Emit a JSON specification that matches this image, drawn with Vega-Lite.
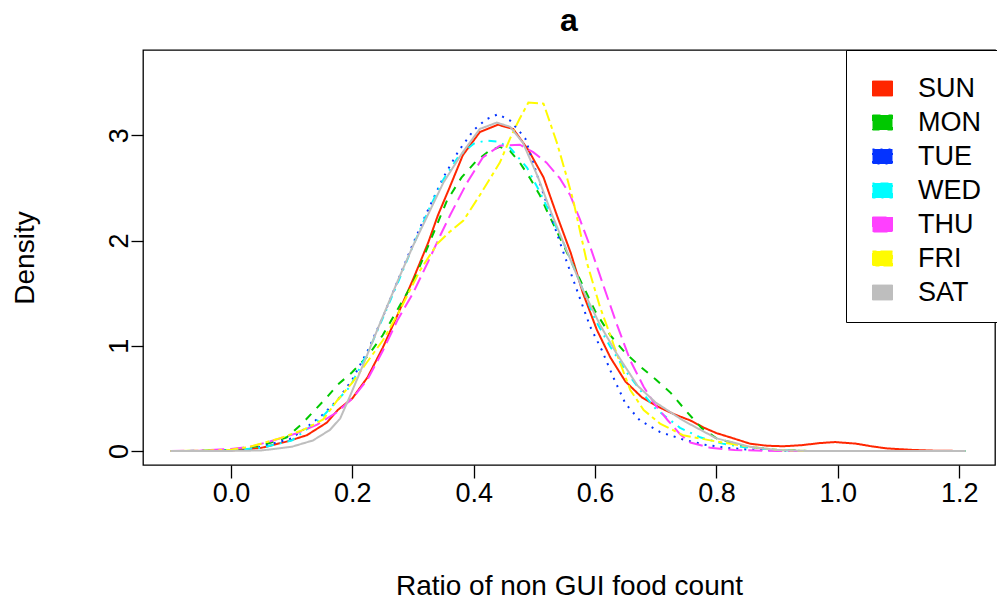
{
  "$schema": "https://vega.github.io/schema/vega-lite/v6.json",
  "width": 852,
  "height": 415,
  "autosize": {"type": "none"},
  "padding": {"left": 143, "top": 50, "right": 2, "bottom": 138},
  "background": "white",
  "config": {
    "font": "Liberation Sans",
    "view": {"stroke": "black", "strokeWidth": 1.3},
    "axis": {"grid": false, "domain": false, "tickColor": "black", "tickWidth": 1.3, "labelColor": "black", "titleColor": "black", "labelFont": "Liberation Sans", "titleFont": "Liberation Sans", "titleFontWeight": "normal"}
  },
  "title": {"text": "a", "fontSize": 32, "fontWeight": "bold", "font": "Liberation Sans", "offset": 12, "anchor": "middle", "color": "black"},
  "data": {"values": [
    {"day":"SUN","x":-0.1,"d":0},{"day":"SUN","x":-0.05,"d":0},{"day":"SUN","x":0,"d":0.005},{"day":"SUN","x":0.05,"d":0.03},{"day":"SUN","x":0.092,"d":0.09},{"day":"SUN","x":0.125,"d":0.15},{"day":"SUN","x":0.158,"d":0.27},{"day":"SUN","x":0.176,"d":0.39},{"day":"SUN","x":0.2,"d":0.5},{"day":"SUN","x":0.225,"d":0.7},{"day":"SUN","x":0.25,"d":0.98},{"day":"SUN","x":0.275,"d":1.3},{"day":"SUN","x":0.3,"d":1.63},{"day":"SUN","x":0.325,"d":1.98},{"day":"SUN","x":0.341,"d":2.24},{"day":"SUN","x":0.36,"d":2.5},{"day":"SUN","x":0.382,"d":2.81},{"day":"SUN","x":0.41,"d":3.03},{"day":"SUN","x":0.44,"d":3.1},{"day":"SUN","x":0.465,"d":3.06},{"day":"SUN","x":0.49,"d":2.86},{"day":"SUN","x":0.515,"d":2.6},{"day":"SUN","x":0.537,"d":2.24},{"day":"SUN","x":0.56,"d":1.88},{"day":"SUN","x":0.58,"d":1.5},{"day":"SUN","x":0.603,"d":1.15},{"day":"SUN","x":0.625,"d":0.89},{"day":"SUN","x":0.65,"d":0.66},{"day":"SUN","x":0.677,"d":0.51},{"day":"SUN","x":0.704,"d":0.42},{"day":"SUN","x":0.73,"d":0.35},{"day":"SUN","x":0.757,"d":0.29},{"day":"SUN","x":0.78,"d":0.22},{"day":"SUN","x":0.8,"d":0.17},{"day":"SUN","x":0.828,"d":0.12},{"day":"SUN","x":0.855,"d":0.07},{"day":"SUN","x":0.883,"d":0.05},{"day":"SUN","x":0.91,"d":0.045},{"day":"SUN","x":0.94,"d":0.055},{"day":"SUN","x":0.97,"d":0.075},{"day":"SUN","x":0.995,"d":0.085},{"day":"SUN","x":1.03,"d":0.07},{"day":"SUN","x":1.055,"d":0.045},{"day":"SUN","x":1.08,"d":0.025},{"day":"SUN","x":1.124,"d":0.01},{"day":"SUN","x":1.16,"d":0.003},{"day":"SUN","x":1.21,"d":0},
    {"day":"MON","x":-0.1,"d":0},{"day":"MON","x":-0.05,"d":0.002},{"day":"MON","x":0,"d":0.012},{"day":"MON","x":0.05,"d":0.05},{"day":"MON","x":0.092,"d":0.13},{"day":"MON","x":0.119,"d":0.27},{"day":"MON","x":0.135,"d":0.37},{"day":"MON","x":0.158,"d":0.51},{"day":"MON","x":0.176,"d":0.63},{"day":"MON","x":0.2,"d":0.75},{"day":"MON","x":0.225,"d":0.9},{"day":"MON","x":0.25,"d":1.1},{"day":"MON","x":0.275,"d":1.35},{"day":"MON","x":0.3,"d":1.6},{"day":"MON","x":0.325,"d":1.95},{"day":"MON","x":0.356,"d":2.38},{"day":"MON","x":0.38,"d":2.6},{"day":"MON","x":0.405,"d":2.76},{"day":"MON","x":0.425,"d":2.85},{"day":"MON","x":0.443,"d":2.89},{"day":"MON","x":0.46,"d":2.85},{"day":"MON","x":0.476,"d":2.74},{"day":"MON","x":0.493,"d":2.59},{"day":"MON","x":0.509,"d":2.43},{"day":"MON","x":0.52,"d":2.29},{"day":"MON","x":0.55,"d":1.93},{"day":"MON","x":0.575,"d":1.63},{"day":"MON","x":0.6,"d":1.33},{"day":"MON","x":0.625,"d":1.1},{"day":"MON","x":0.65,"d":0.93},{"day":"MON","x":0.675,"d":0.8},{"day":"MON","x":0.7,"d":0.68},{"day":"MON","x":0.725,"d":0.55},{"day":"MON","x":0.75,"d":0.38},{"day":"MON","x":0.775,"d":0.22},{"day":"MON","x":0.8,"d":0.12},{"day":"MON","x":0.85,"d":0.04},{"day":"MON","x":0.9,"d":0.01},{"day":"MON","x":0.95,"d":0},{"day":"MON","x":1.21,"d":0},
    {"day":"TUE","x":-0.1,"d":0},{"day":"TUE","x":-0.05,"d":0.001},{"day":"TUE","x":0,"d":0.01},{"day":"TUE","x":0.05,"d":0.04},{"day":"TUE","x":0.1,"d":0.12},{"day":"TUE","x":0.13,"d":0.25},{"day":"TUE","x":0.15,"d":0.34},{"day":"TUE","x":0.175,"d":0.48},{"day":"TUE","x":0.2,"d":0.68},{"day":"TUE","x":0.225,"d":0.95},{"day":"TUE","x":0.25,"d":1.27},{"day":"TUE","x":0.275,"d":1.62},{"day":"TUE","x":0.3,"d":1.97},{"day":"TUE","x":0.323,"d":2.27},{"day":"TUE","x":0.35,"d":2.6},{"day":"TUE","x":0.375,"d":2.85},{"day":"TUE","x":0.4,"d":3.05},{"day":"TUE","x":0.42,"d":3.15},{"day":"TUE","x":0.44,"d":3.2},{"day":"TUE","x":0.46,"d":3.14},{"day":"TUE","x":0.485,"d":2.97},{"day":"TUE","x":0.504,"d":2.63},{"day":"TUE","x":0.525,"d":2.27},{"day":"TUE","x":0.55,"d":1.85},{"day":"TUE","x":0.575,"d":1.45},{"day":"TUE","x":0.592,"d":1.18},{"day":"TUE","x":0.611,"d":0.96},{"day":"TUE","x":0.63,"d":0.7},{"day":"TUE","x":0.65,"d":0.45},{"day":"TUE","x":0.674,"d":0.29},{"day":"TUE","x":0.707,"d":0.18},{"day":"TUE","x":0.745,"d":0.11},{"day":"TUE","x":0.78,"d":0.06},{"day":"TUE","x":0.817,"d":0.03},{"day":"TUE","x":0.85,"d":0.015},{"day":"TUE","x":0.9,"d":0.005},{"day":"TUE","x":0.95,"d":0},{"day":"TUE","x":1.21,"d":0},
    {"day":"WED","x":-0.1,"d":0},{"day":"WED","x":-0.05,"d":0.001},{"day":"WED","x":0,"d":0.006},{"day":"WED","x":0.05,"d":0.03},{"day":"WED","x":0.1,"d":0.1},{"day":"WED","x":0.119,"d":0.18},{"day":"WED","x":0.15,"d":0.32},{"day":"WED","x":0.175,"d":0.48},{"day":"WED","x":0.196,"d":0.61},{"day":"WED","x":0.225,"d":0.93},{"day":"WED","x":0.25,"d":1.26},{"day":"WED","x":0.275,"d":1.6},{"day":"WED","x":0.3,"d":1.95},{"day":"WED","x":0.328,"d":2.32},{"day":"WED","x":0.35,"d":2.58},{"day":"WED","x":0.375,"d":2.8},{"day":"WED","x":0.4,"d":2.92},{"day":"WED","x":0.42,"d":2.95},{"day":"WED","x":0.44,"d":2.94},{"day":"WED","x":0.46,"d":2.88},{"day":"WED","x":0.488,"d":2.69},{"day":"WED","x":0.509,"d":2.46},{"day":"WED","x":0.523,"d":2.29},{"day":"WED","x":0.55,"d":1.95},{"day":"WED","x":0.58,"d":1.53},{"day":"WED","x":0.6,"d":1.25},{"day":"WED","x":0.625,"d":0.99},{"day":"WED","x":0.653,"d":0.74},{"day":"WED","x":0.677,"d":0.56},{"day":"WED","x":0.7,"d":0.4},{"day":"WED","x":0.74,"d":0.22},{"day":"WED","x":0.773,"d":0.13},{"day":"WED","x":0.81,"d":0.07},{"day":"WED","x":0.84,"d":0.04},{"day":"WED","x":0.9,"d":0.01},{"day":"WED","x":0.95,"d":0},{"day":"WED","x":1.21,"d":0},
    {"day":"THU","x":-0.1,"d":0},{"day":"THU","x":-0.05,"d":0.004},{"day":"THU","x":0,"d":0.02},{"day":"THU","x":0.031,"d":0.04},{"day":"THU","x":0.064,"d":0.09},{"day":"THU","x":0.109,"d":0.17},{"day":"THU","x":0.142,"d":0.25},{"day":"THU","x":0.175,"d":0.37},{"day":"THU","x":0.2,"d":0.5},{"day":"THU","x":0.225,"d":0.68},{"day":"THU","x":0.25,"d":0.95},{"day":"THU","x":0.275,"d":1.25},{"day":"THU","x":0.3,"d":1.5},{"day":"THU","x":0.325,"d":1.8},{"day":"THU","x":0.345,"d":2.05},{"day":"THU","x":0.361,"d":2.24},{"day":"THU","x":0.389,"d":2.55},{"day":"THU","x":0.415,"d":2.79},{"day":"THU","x":0.443,"d":2.9},{"day":"THU","x":0.476,"d":2.91},{"day":"THU","x":0.498,"d":2.84},{"day":"THU","x":0.52,"d":2.74},{"day":"THU","x":0.542,"d":2.59},{"day":"THU","x":0.559,"d":2.43},{"day":"THU","x":0.575,"d":2.2},{"day":"THU","x":0.592,"d":1.94},{"day":"THU","x":0.615,"d":1.55},{"day":"THU","x":0.636,"d":1.2},{"day":"THU","x":0.658,"d":0.86},{"day":"THU","x":0.68,"d":0.61},{"day":"THU","x":0.7,"d":0.43},{"day":"THU","x":0.72,"d":0.29},{"day":"THU","x":0.74,"d":0.16},{"day":"THU","x":0.757,"d":0.08},{"day":"THU","x":0.79,"d":0.03},{"day":"THU","x":0.83,"d":0.01},{"day":"THU","x":0.9,"d":0},{"day":"THU","x":1.21,"d":0},
    {"day":"FRI","x":-0.1,"d":0},{"day":"FRI","x":-0.05,"d":0.002},{"day":"FRI","x":0,"d":0.012},{"day":"FRI","x":0.031,"d":0.04},{"day":"FRI","x":0.08,"d":0.12},{"day":"FRI","x":0.119,"d":0.2},{"day":"FRI","x":0.152,"d":0.3},{"day":"FRI","x":0.175,"d":0.48},{"day":"FRI","x":0.2,"d":0.65},{"day":"FRI","x":0.225,"d":0.85},{"day":"FRI","x":0.25,"d":1.05},{"day":"FRI","x":0.275,"d":1.3},{"day":"FRI","x":0.295,"d":1.53},{"day":"FRI","x":0.312,"d":1.72},{"day":"FRI","x":0.34,"d":1.97},{"day":"FRI","x":0.36,"d":2.08},{"day":"FRI","x":0.383,"d":2.19},{"day":"FRI","x":0.41,"d":2.43},{"day":"FRI","x":0.443,"d":2.74},{"day":"FRI","x":0.46,"d":2.97},{"day":"FRI","x":0.475,"d":3.15},{"day":"FRI","x":0.49,"d":3.31},{"day":"FRI","x":0.515,"d":3.3},{"day":"FRI","x":0.537,"d":2.93},{"day":"FRI","x":0.554,"d":2.59},{"day":"FRI","x":0.564,"d":2.38},{"day":"FRI","x":0.587,"d":1.78},{"day":"FRI","x":0.608,"d":1.37},{"day":"FRI","x":0.625,"d":1.1},{"day":"FRI","x":0.641,"d":0.84},{"day":"FRI","x":0.658,"d":0.58},{"day":"FRI","x":0.68,"d":0.39},{"day":"FRI","x":0.707,"d":0.26},{"day":"FRI","x":0.745,"d":0.15},{"day":"FRI","x":0.8,"d":0.09},{"day":"FRI","x":0.855,"d":0.04},{"day":"FRI","x":0.9,"d":0.01},{"day":"FRI","x":0.95,"d":0},{"day":"FRI","x":1.21,"d":0},
    {"day":"SAT","x":-0.1,"d":0},{"day":"SAT","x":-0.05,"d":0},{"day":"SAT","x":0,"d":0.001},{"day":"SAT","x":0.05,"d":0.005},{"day":"SAT","x":0.1,"d":0.04},{"day":"SAT","x":0.135,"d":0.1},{"day":"SAT","x":0.163,"d":0.2},{"day":"SAT","x":0.18,"d":0.31},{"day":"SAT","x":0.196,"d":0.52},{"day":"SAT","x":0.22,"d":0.85},{"day":"SAT","x":0.241,"d":1.15},{"day":"SAT","x":0.275,"d":1.62},{"day":"SAT","x":0.3,"d":1.95},{"day":"SAT","x":0.325,"d":2.25},{"day":"SAT","x":0.35,"d":2.55},{"day":"SAT","x":0.382,"d":2.84},{"day":"SAT","x":0.41,"d":3.06},{"day":"SAT","x":0.438,"d":3.12},{"day":"SAT","x":0.46,"d":3.08},{"day":"SAT","x":0.481,"d":2.93},{"day":"SAT","x":0.506,"d":2.6},{"day":"SAT","x":0.528,"d":2.26},{"day":"SAT","x":0.55,"d":1.95},{"day":"SAT","x":0.58,"d":1.53},{"day":"SAT","x":0.608,"d":1.2},{"day":"SAT","x":0.635,"d":0.93},{"day":"SAT","x":0.67,"d":0.62},{"day":"SAT","x":0.7,"d":0.46},{"day":"SAT","x":0.745,"d":0.29},{"day":"SAT","x":0.8,"d":0.12},{"day":"SAT","x":0.855,"d":0.04},{"day":"SAT","x":0.9,"d":0.01},{"day":"SAT","x":0.95,"d":0},{"day":"SAT","x":1.21,"d":0}
  ]},
  "transform": [{"calculate": "datum.day", "as": "lty"}],
  "mark": {"type": "line", "strokeWidth": 2, "interpolate": "linear"},
  "encoding": {
    "x": {"field": "x", "type": "quantitative", "scale": {"domain": [-0.145, 1.259], "nice": false, "zero": false},
      "axis": {"values": [0, 0.2, 0.4, 0.6, 0.8, 1.0, 1.2], "format": ".1f", "title": "Ratio of non GUI food count", "labelFontSize": 27, "titleFontSize": 28, "tickSize": 13, "labelPadding": 2, "titlePadding": 66, "labelFlush": false}},
    "y": {"field": "d", "type": "quantitative", "scale": {"domain": [-0.133, 3.81], "nice": false, "zero": false},
      "axis": {"values": [0, 1, 2, 3], "format": "d", "title": "Density", "labelFontSize": 27, "titleFontSize": 28, "tickSize": 12, "labelPadding": -2, "labelAngle": -90, "labelAlign": "center", "labelBaseline": "bottom", "titlePadding": 66}},
    "color": {"field": "day", "type": "nominal", "sort": null,
      "scale": {"domain": ["SUN", "MON", "TUE", "WED", "THU", "FRI", "SAT"], "range": ["#FF2600", "#00C800", "#0433FF", "#00FDFF", "#FF40FF", "#FFFB00", "#BEBEBE"]},
      "legend": {"orient": "none", "legendX": 703, "legendY": 0, "title": " ", "titleFontSize": 5, "titlePadding": 4, "labelFontSize": 27, "labelColor": "black", "labelFont": "Liberation Sans", "symbolType": "M-0.3,-0.75H1.7V0.75H-0.3Z", "symbolSize": 400, "symbolStrokeWidth": 1, "symbolDash": [1, 0], "labelOffset": 29, "rowPadding": 6, "padding": 16, "strokeColor": "black", "fillColor": "white",
        "encode": {"symbols": {"update": {"fill": {"scale": "color", "field": "value"}, "stroke": {"value": "black"}, "strokeWidth": {"value": 1}, "strokeDash": {"value": [1, 0]}, "opacity": {"value": 1}}}}}},
    "strokeDash": {"field": "lty", "type": "nominal", "sort": null,
      "scale": {"domain": ["SUN", "MON", "TUE", "WED", "THU", "FRI", "SAT"], "range": [[1, 0], [8, 8], [2, 6], [2, 6, 8, 6], [14, 6], [4, 4, 12, 4], [1, 0]]},
      "legend": null}
  }
}
